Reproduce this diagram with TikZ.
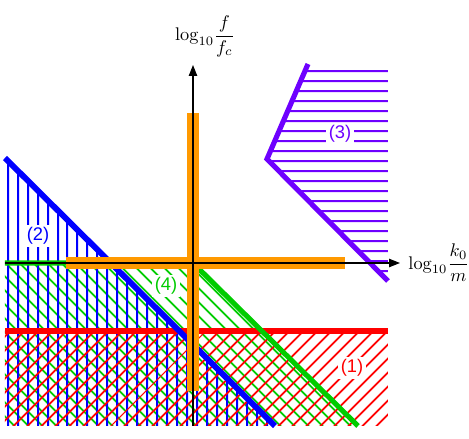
\documentclass[tikz,border=0pt]{standalone}
\usepackage{fontspec}
\usepackage{amsmath}
\usetikzlibrary{patterns.meta,arrows.meta}
\newfontfamily\tagfont{Liberation Sans}
\definecolor{regred}{RGB}{255,0,0}
\definecolor{regblue}{RGB}{0,0,255}
\definecolor{reggreen}{RGB}{0,204,0}
\definecolor{regviolet}{RGB}{110,0,255}
\definecolor{crossorange}{RGB}{255,153,0}

\begin{document}
\begin{tikzpicture}[x=0.192cm, y=0.192cm,
  hatch/.style={pattern={Lines[angle=#1, distance=5.4pt, line width=1.1pt]}},
  border/.style={line width=3.2pt},
  tag/.style={fill=white, inner sep=1.5pt, font=\tagfont},
  axis/.style={-{Triangle[length=6pt, width=4.6pt]}, line width=0.6pt}
]
  \useasboundingbox (-19.3,-17.6) rectangle (27.6,26.3);

  % corners of the regions
  \coordinate (O) at (0,0);
  \coordinate (gL) at (-18.8,0);
  \coordinate (gB) at (16.5,-16.3);
  \coordinate (bT) at (-18.8,10.5);
  \coordinate (bB) at (8.2,-16.3);
  \coordinate (rL) at (-18.8,-6.8);
  \coordinate (rR) at (19.5,-6.8);
  \coordinate (vT) at (11.5,19.9);
  \coordinate (vM) at (7.4,10.4);
  \coordinate (vB) at (19.5,-1.8);

  % hatched regions
  \fill[hatch=-45, pattern color=reggreen] (gL) -- (O) -- (gB) -- (-18.8,-16.3) -- cycle;
  \fill[hatch=90, pattern color=regblue] (bT) -- (bB) -- (-18.8,-16.3) -- cycle;
  \fill[hatch=45, pattern color=regred] (rL) -- (rR) -- (19.5,-16.3) -- (-18.8,-16.3) -- cycle;
  \fill[hatch=0, pattern color=regviolet] (vT) -- (19.5,19.9) -- (vB) -- (vM) -- cycle;

  % borders
  \draw[border, regred] (rL) -- (rR);
  \draw[border, regblue] (bT) -- (bB);
  \draw[border, reggreen, line width=2.8pt] (gL) -- (O) -- (gB);
  \draw[border, regviolet, line width=2.8pt] (vT) -- (vM) -- (vB);

  % orange cross
  \draw[crossorange, line width=7pt] (0,-12.8) -- (0,15.0);
  \draw[crossorange, line width=7pt] (-12.7,0) -- (15.2,0);

  % axes
  \coordinate (xS) at (-18.8,0);
  \coordinate (xE) at (20.7,0);
  \coordinate (yS) at (0,-16.3);
  \coordinate (yE) at (0,19.8);
  \draw[axis] (xS) -- (xE);
  \draw[axis] (yS) -- (yE);
  \node (ylab) at (1.2,22.7) {$\log_{10}\!\dfrac{f}{f_c}$};
  \node (xlab) at (24.6,0) {$\log_{10}\!\dfrac{k_0}{m}$};

  % region tags
  \node[tag, text=regred] (t1) at (15.9,-10.5) {(1)};
  \node[tag, text=regblue] (t2) at (-15.5,2.7) {(2)};
  \node[tag, text=regviolet] (t3) at (14.7,12.9) {(3)};
  \node[tag, text=reggreen] (t4) at (-2.7,-2.3) {(4)};
\end{tikzpicture}
\end{document}
